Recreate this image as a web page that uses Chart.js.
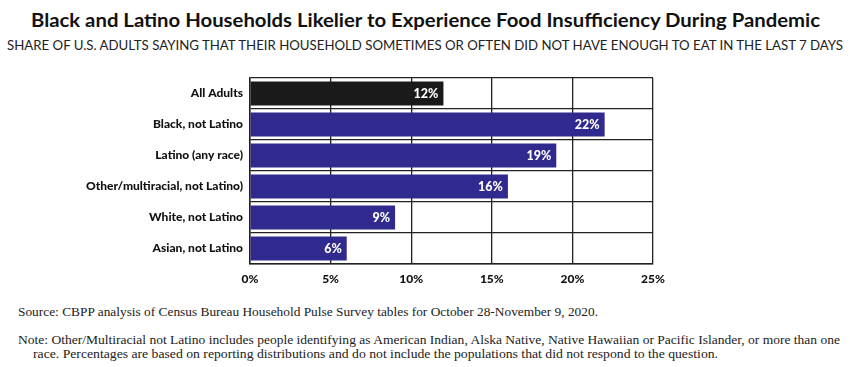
<!DOCTYPE html>
<html><head><meta charset="utf-8">
<script src="https://cdn.jsdelivr.net/npm/chart.js@4.4.1/dist/chart.umd.min.js"></script>
<style>
html,body{margin:0;padding:0;background:#fff;width:850px;height:367px;overflow:hidden;position:relative}
.t{position:absolute;white-space:nowrap;transform-origin:0 0;color:#111}
#title{font-family:Lato,"Open Sans",sans-serif;font-weight:700;font-size:19px;top:8px;left:31px}
#sub{font-family:Lato,"Open Sans",sans-serif;font-weight:400;font-size:12.5px;top:38px;left:7px;color:#222}
.n{font-family:"Liberation Serif","DejaVu Serif",serif;font-size:13.5px;color:#222}
#src{top:304px;left:18px}
#n1{top:332px;left:18px}
#n2{top:346px;left:33px}
#wrap{position:absolute;left:0;top:60px;width:850px;height:234px}
</style></head><body>
<div class="t" id="title" data-w="789">Black and Latino Households Likelier to Experience Food Insufficiency During Pandemic</div>
<div class="t" id="sub" data-w="836">SHARE OF U.S. ADULTS SAYING THAT THEIR HOUSEHOLD SOMETIMES OR OFTEN DID NOT HAVE ENOUGH TO EAT IN THE LAST 7 DAYS</div>
<div class="t n" id="src" data-w="580">Source: CBPP analysis of Census Bureau Household Pulse Survey tables for October 28-November 9, 2020.</div>
<div class="t n" id="n1" data-w="822">Note: Other/Multiracial not Latino includes people identifying as American Indian, Alska Native, Native Hawaiian or Pacific Islander, or more than one</div>
<div class="t n" id="n2" data-w="685">race. Percentages are based on reporting distributions and do not include the populations that did not respond to the question.</div>
<div id="wrap"><canvas id="c" width="850" height="234"></canvas></div>
<script>
const categories = ["All Adults","Black, not Latino","Latino (any race)","Other/multiracial, not Latino)","White, not Latino","Asian, not Latino"];
const values = [12,22,19,16,9,6];
const xTicks = ["0%","5%","10%","15%","20%","25%"];

document.querySelectorAll('[data-w]').forEach(el=>{
  const w = el.getBoundingClientRect().width;
  const target = +el.dataset.w;
  el.style.transform = 'scaleX(' + (target / w) + ')';
});

const barColors = values.map((v,i)=> i===0 ? '#1b1a1a' : '#302a8e');

const labelPlugin = {
  id:'vals',
  afterDatasetsDraw(chart){
    const ctx = chart.ctx;
    const meta = chart.getDatasetMeta(0);
    ctx.save();
    ctx.fillStyle = '#fff';
    ctx.font = '900 12.5px Lato, "Open Sans", sans-serif';
    ctx.textAlign = 'right';
    ctx.textBaseline = 'middle';
    meta.data.forEach((bar,i)=>{
      ctx.fillText(values[i] + '%', bar.x - 5, bar.y);
    });
    ctx.restore();
  }
};

new Chart(document.getElementById('c'),{
  type:'bar',
  data:{labels:categories,datasets:[{data:values,backgroundColor:barColors,barPercentage:0.77,categoryPercentage:1}]},
  options:{
    indexAxis:'y',responsive:false,animation:false,
    layout:{padding:{left:0,right:197,top:18,bottom:0}},
    plugins:{legend:{display:false},tooltip:{enabled:false}},
    scales:{
      x:{min:0,max:25,
        ticks:{stepSize:5,color:'#111',font:{family:'Lato',weight:'900',size:12},padding:8,
          callback:(v,i)=>xTicks[i]},
        grid:{color:'#222',lineWidth:1.3,drawTicks:false},
        border:{color:'#222',width:1.5},
        afterFit:s=>{s.height=30;}
      },
      y:{
        ticks:{color:'#111',font:{family:'Lato',weight:'900',size:12},padding:7},
        grid:{color:'#222',lineWidth:1.3,offset:true,drawTicks:false},
        border:{color:'#222',width:1.5},
        afterFit:s=>{s.width=250;}
      }
    }
  },
  plugins:[labelPlugin]
});
</script>
</body></html>
